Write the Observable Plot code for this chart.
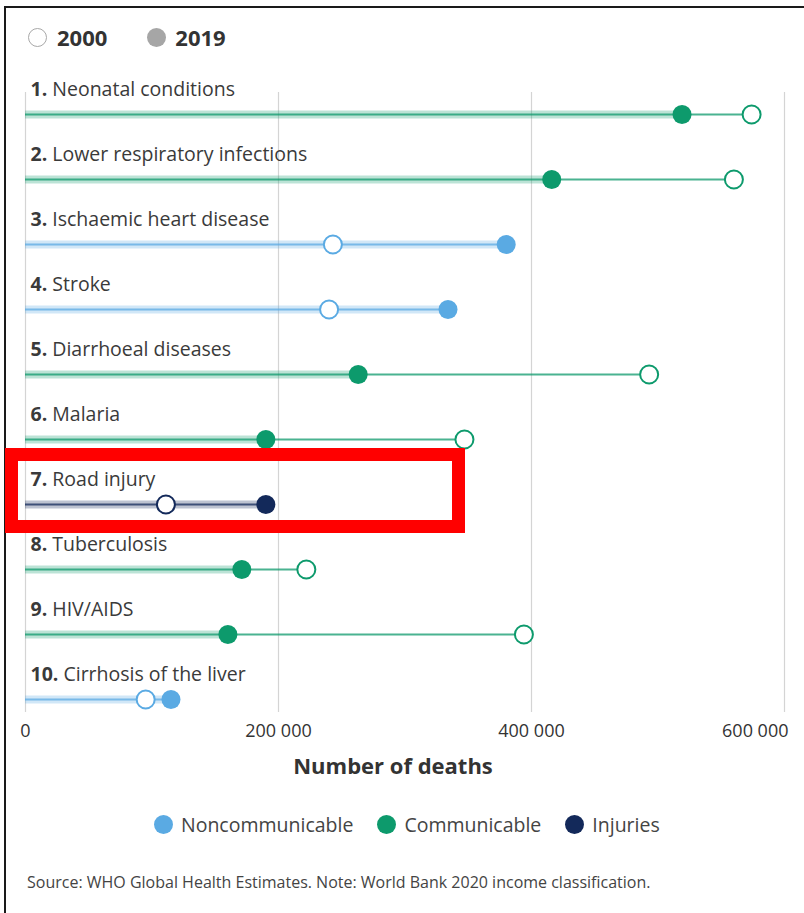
<!DOCTYPE html>
<html><head><meta charset="utf-8">
<script src="https://cdn.jsdelivr.net/npm/d3@7"></script>
<script src="https://cdn.jsdelivr.net/npm/@observablehq/plot@0.6"></script>
<style>
body{margin:0;background:#fff;font-family:"Open Sans",sans-serif;}
#wrap{position:relative;width:804px;height:913px;overflow:hidden;background:#fff;}
#frame{position:absolute;left:4px;top:6px;width:820px;height:930px;border-top:2.5px solid #1a1a1a;border-left:2.5px solid #1a1a1a;}
.leg{position:absolute;display:flex;align-items:center;white-space:nowrap;}
.sw{display:inline-block;border-radius:50%;box-sizing:border-box;flex:none;}
#toplegend{left:28px;top:22px;font-size:22px;font-weight:700;color:#333;}
#botlegend{left:154px;top:811px;font-size:19.5px;color:#444;}
#chart{position:absolute;left:0;top:60px;}
#source{position:absolute;left:27px;top:871px;font-size:16px;color:#444;white-space:nowrap;}
#redbox{position:absolute;left:5px;top:448px;width:460px;height:85px;box-sizing:border-box;border:13px solid #ff0000;}
</style></head>
<body><div id="wrap">
<div id="frame"></div>
<div id="toplegend" class="leg"></div>
<div id="chart"></div>
<div id="botlegend" class="leg"></div>
<div id="source">Source: WHO Global Health Estimates. Note: World Bank 2020 income classification.</div>
<div id="redbox"></div>
</div>
<script>
const causes = ["Neonatal conditions","Lower respiratory infections","Ischaemic heart disease","Stroke","Diarrhoeal diseases","Malaria","Road injury","Tuberculosis","HIV/AIDS","Cirrhosis of the liver"];
const ranks = [1,2,3,4,5,6,7,8,9,10];
const deaths2000 = [574000,560000,243000,240000,493000,347000,111000,222000,394000,95000];
const deaths2019 = [519000,416000,380000,334000,263000,190000,190000,171000,160000,115000];
const groups = ["Communicable","Communicable","Noncommunicable","Noncommunicable","Communicable","Communicable","Injuries","Communicable","Communicable","Noncommunicable"];
const groupNames = ["Noncommunicable","Communicable","Injuries"];
const groupColors = ["#5aaae3","#0d9a6c","#13295a"];
const xTicks = [0,200000,400000,600000];
const years = ["2000","2019"];

const rows = causes.map((c,i)=>({cause:c, rank:ranks[i], v2000:deaths2000[i], v2019:deaths2019[i], group:groups[i], vmax:Math.max(deaths2000[i],deaths2019[i])}));
const fmt = d => String(d).replace(/\B(?=(\d{3})+(?!\d))/g, " ");

// top legend
const tl = document.getElementById("toplegend");
years.forEach((y,i)=>{
  const s=document.createElement("span");s.className="sw";
  s.style.width="19px";s.style.height="19px";
  if(i===0){s.style.border="1.5px solid #a8a8a8";s.style.background="#fff";}
  else{s.style.background="#a6a6a6";s.style.marginLeft="40px";}
  const t=document.createElement("span");t.textContent=y;t.style.marginLeft=i===0?"10px":"9px";
  tl.appendChild(s);tl.appendChild(t);
});
// bottom legend
const bl = document.getElementById("botlegend");
groupNames.forEach((g,i)=>{
  const s=document.createElement("span");s.className="sw";
  s.style.width="19px";s.style.height="19px";s.style.background=groupColors[i];
  if(i>0) s.style.marginLeft="24px";
  const t=document.createElement("span");t.textContent=g;t.style.marginLeft="8px";
  bl.appendChild(s);bl.appendChild(t);
});

const plot = Plot.plot({
  width: 804, height: 735,
  marginLeft: 25, marginRight: 20, marginTop: 32, marginBottom: 83,
  style: {fontFamily: "Open Sans, sans-serif", background: "transparent"},
  x: {domain: [0, 600000], ticks: xTicks, tickFormat: fmt, axis: null},
  y: {type: "point", domain: causes, range: [50, 643], padding: 0, axis: null},
  color: {domain: groupNames, range: groupColors},
  marks: [
    Plot.gridX(xTicks, {stroke: "#d4d4d4", strokeOpacity: 1, strokeWidth: 1.2}),
    Plot.axisX(xTicks.slice(0, 3), {tickFormat: fmt, tickSize: 0, tickPadding: 12, fontSize: 18, color: "#333", label: null}),
    Plot.axisX(xTicks.slice(3), {tickFormat: fmt, tickSize: 0, tickPadding: 12, fontSize: 18, color: "#333", label: null, textAnchor: "end", dx: 4}),
    Plot.text(["Number of deaths"], {frameAnchor: "bottom", dx: -12, dy: 61, fontWeight: "bold", fontSize: 22, fill: "#333"}),
    Plot.ruleY(rows, {y: "cause", x1: 0, x2: "v2019", stroke: "group", strokeWidth: 8, strokeOpacity: 0.28}),
    Plot.ruleY(rows, {y: "cause", x1: 0, x2: "vmax", stroke: "group", strokeWidth: 2, strokeOpacity: 0.75}),
    Plot.dot(rows, {y: "cause", x: "v2000", r: 9, fill: "white", stroke: "group", strokeWidth: 2}),
    Plot.dot(rows, {y: "cause", x: "v2019", r: 9.5, fill: "group", stroke: "none"}),
    Plot.text(rows, {y: "cause", x: 0, text: d => d.rank + ". " + d.cause, dx: 5, dy: -25, textAnchor: "start", fontSize: 19.5, fill: "#3a3a3a", className: "rowlabel"})
  ]
});
document.getElementById("chart").appendChild(plot);
d3.select(plot).selectAll(".rowlabel text").each(function(){
  const el = d3.select(this);
  const full = el.text();
  const k = full.indexOf(" ");
  el.text(null);
  el.append("tspan").attr("font-weight","bold").text(full.slice(0,k));
  el.append("tspan").text(full.slice(k));
});
</script>
</body></html>
